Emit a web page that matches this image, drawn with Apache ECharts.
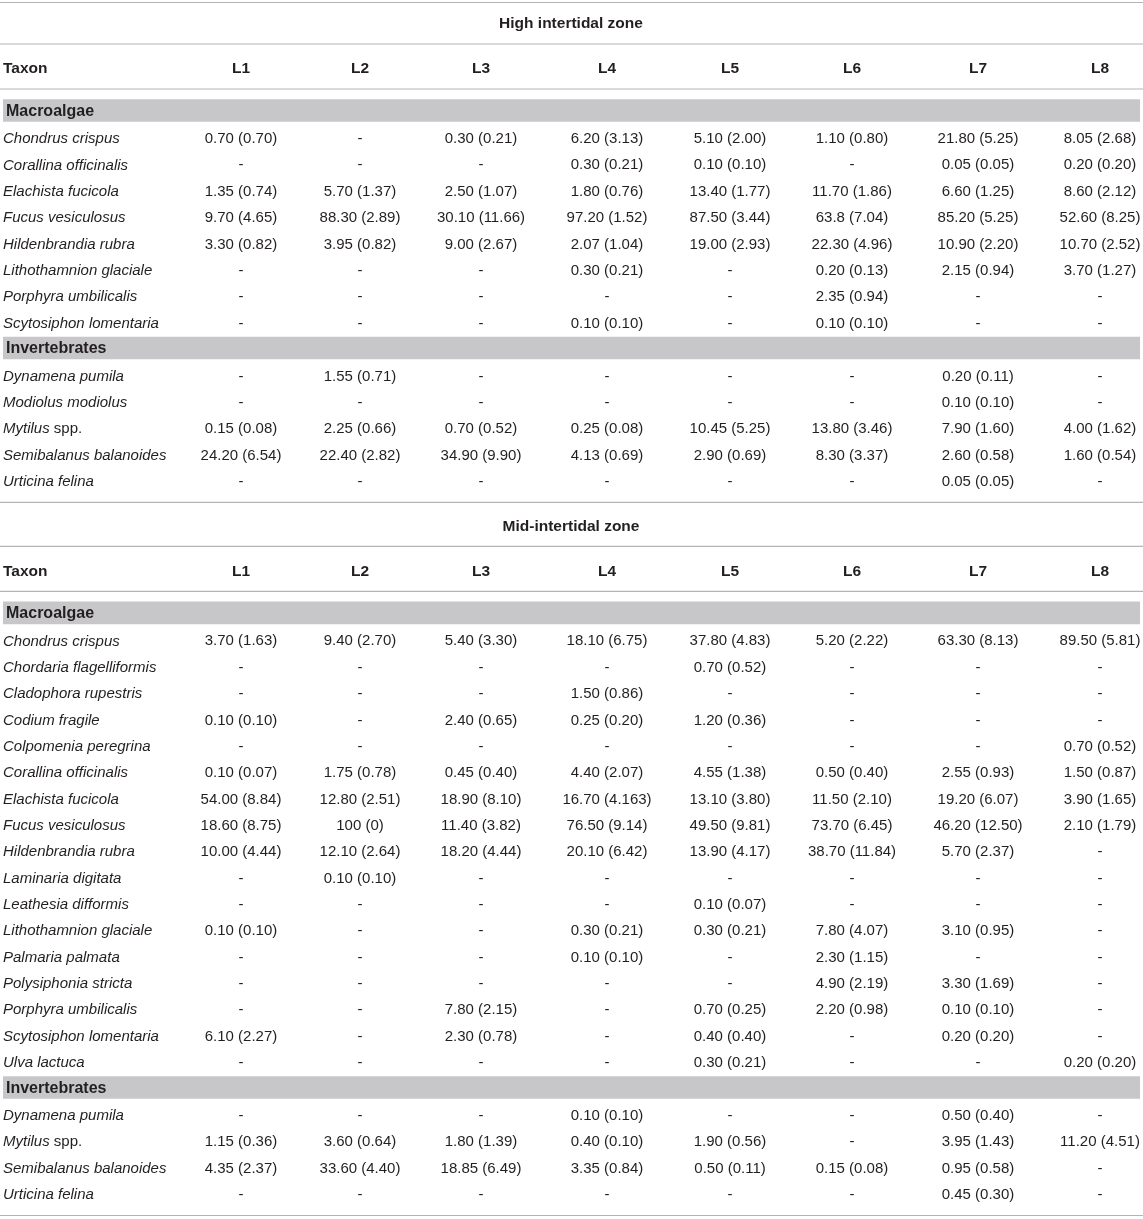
<!DOCTYPE html>
<html>
<head>
<meta charset="utf-8">
<script src="https://cdn.jsdelivr.net/npm/echarts@6/dist/echarts.min.js"></script>
<style>html,body{margin:0;padding:0;background:#fff;}#c{width:1143px;height:1219px;}</style>
</head>
<body>
<div id="c"></div>
<script>
const COLS = ['L1','L2','L3','L4','L5','L6','L7','L8'];
const ZONES = ['High intertidal zone','Mid-intertidal zone'];
const GROUPS = ['Macroalgae','Invertebrates'];
const TAXON_HEADER = 'Taxon';

const highMacroTaxa = ['Chondrus crispus','Corallina officinalis','Elachista fucicola','Fucus vesiculosus','Hildenbrandia rubra','Lithothamnion glaciale','Porphyra umbilicalis','Scytosiphon lomentaria'];
const highMacroValues = [
['0.70 (0.70)','-','0.30 (0.21)','6.20 (3.13)','5.10 (2.00)','1.10 (0.80)','21.80 (5.25)','8.05 (2.68)'],
['-','-','-','0.30 (0.21)','0.10 (0.10)','-','0.05 (0.05)','0.20 (0.20)'],
['1.35 (0.74)','5.70 (1.37)','2.50 (1.07)','1.80 (0.76)','13.40 (1.77)','11.70 (1.86)','6.60 (1.25)','8.60 (2.12)'],
['9.70 (4.65)','88.30 (2.89)','30.10 (11.66)','97.20 (1.52)','87.50 (3.44)','63.8 (7.04)','85.20 (5.25)','52.60 (8.25)'],
['3.30 (0.82)','3.95 (0.82)','9.00 (2.67)','2.07 (1.04)','19.00 (2.93)','22.30 (4.96)','10.90 (2.20)','10.70 (2.52)'],
['-','-','-','0.30 (0.21)','-','0.20 (0.13)','2.15 (0.94)','3.70 (1.27)'],
['-','-','-','-','-','2.35 (0.94)','-','-'],
['-','-','-','0.10 (0.10)','-','0.10 (0.10)','-','-']
];
const highInvTaxa = ['Dynamena pumila','Modiolus modiolus','Mytilus spp.','Semibalanus balanoides','Urticina felina'];
const highInvValues = [
['-','1.55 (0.71)','-','-','-','-','0.20 (0.11)','-'],
['-','-','-','-','-','-','0.10 (0.10)','-'],
['0.15 (0.08)','2.25 (0.66)','0.70 (0.52)','0.25 (0.08)','10.45 (5.25)','13.80 (3.46)','7.90 (1.60)','4.00 (1.62)'],
['24.20 (6.54)','22.40 (2.82)','34.90 (9.90)','4.13 (0.69)','2.90 (0.69)','8.30 (3.37)','2.60 (0.58)','1.60 (0.54)'],
['-','-','-','-','-','-','0.05 (0.05)','-']
];
const midMacroTaxa = ['Chondrus crispus','Chordaria flagelliformis','Cladophora rupestris','Codium fragile','Colpomenia peregrina','Corallina officinalis','Elachista fucicola','Fucus vesiculosus','Hildenbrandia rubra','Laminaria digitata','Leathesia difformis','Lithothamnion glaciale','Palmaria palmata','Polysiphonia stricta','Porphyra umbilicalis','Scytosiphon lomentaria','Ulva lactuca'];
const midMacroValues = [
['3.70 (1.63)','9.40 (2.70)','5.40 (3.30)','18.10 (6.75)','37.80 (4.83)','5.20 (2.22)','63.30 (8.13)','89.50 (5.81)'],
['-','-','-','-','0.70 (0.52)','-','-','-'],
['-','-','-','1.50 (0.86)','-','-','-','-'],
['0.10 (0.10)','-','2.40 (0.65)','0.25 (0.20)','1.20 (0.36)','-','-','-'],
['-','-','-','-','-','-','-','0.70 (0.52)'],
['0.10 (0.07)','1.75 (0.78)','0.45 (0.40)','4.40 (2.07)','4.55 (1.38)','0.50 (0.40)','2.55 (0.93)','1.50 (0.87)'],
['54.00 (8.84)','12.80 (2.51)','18.90 (8.10)','16.70 (4.163)','13.10 (3.80)','11.50 (2.10)','19.20 (6.07)','3.90 (1.65)'],
['18.60 (8.75)','100 (0)','11.40 (3.82)','76.50 (9.14)','49.50 (9.81)','73.70 (6.45)','46.20 (12.50)','2.10 (1.79)'],
['10.00 (4.44)','12.10 (2.64)','18.20 (4.44)','20.10 (6.42)','13.90 (4.17)','38.70 (11.84)','5.70 (2.37)','-'],
['-','0.10 (0.10)','-','-','-','-','-','-'],
['-','-','-','-','0.10 (0.07)','-','-','-'],
['0.10 (0.10)','-','-','0.30 (0.21)','0.30 (0.21)','7.80 (4.07)','3.10 (0.95)','-'],
['-','-','-','0.10 (0.10)','-','2.30 (1.15)','-','-'],
['-','-','-','-','-','4.90 (2.19)','3.30 (1.69)','-'],
['-','-','7.80 (2.15)','-','0.70 (0.25)','2.20 (0.98)','0.10 (0.10)','-'],
['6.10 (2.27)','-','2.30 (0.78)','-','0.40 (0.40)','-','0.20 (0.20)','-'],
['-','-','-','-','0.30 (0.21)','-','-','0.20 (0.20)']
];
const midInvTaxa = ['Dynamena pumila','Mytilus spp.','Semibalanus balanoides','Urticina felina'];
const midInvValues = [
['-','-','-','0.10 (0.10)','-','-','0.50 (0.40)','-'],
['1.15 (0.36)','3.60 (0.64)','1.80 (1.39)','0.40 (0.10)','1.90 (0.56)','-','3.95 (1.43)','11.20 (4.51)'],
['4.35 (2.37)','33.60 (4.40)','18.85 (6.49)','3.35 (0.84)','0.50 (0.11)','0.15 (0.08)','0.95 (0.58)','-'],
['-','-','-','-','-','-','0.45 (0.30)','-']
];

// ---- layout (pixel units on the value axes) ----
const W = 1143, H = 1219;
const COL_X = [241, 360, 481, 607, 730, 852, 978, 1100];
const TAXON_X = 3, GROUP_X = 6, TITLE_X = 571;
const PITCH = 26.35;
const FONT = '"Liberation Sans", Arial, Helvetica, sans-serif';
const FS = 15;
const FS_BOLD = 15.5;
const FS_GROUP = 16;
const TXT = '#231f20';
const TEXT_DY = 1;

const texts = [], rules = [], bands = [];

function section(title, titleY, groups) {
  texts.push({x: TITLE_X, y: titleY, text: title, bold: true, size: FS_BOLD, align: 'center'});
  rules.push(titleY + 21);
  const hy = titleY + 45;
  texts.push({x: TAXON_X, y: hy, text: TAXON_HEADER, bold: true, size: FS_BOLD, align: 'left'});
  COLS.forEach((c, i) => texts.push({x: COL_X[i], y: hy, text: c, bold: true, size: FS_BOLD, align: 'center'}));
  rules.push(titleY + 66);
  let y = titleY + 87.5;
  let last = y;
  groups.forEach((g, gi) => {
    if (gi > 0) y = last + 25.5;
    bands.push(y);
    texts.push({x: GROUP_X, y: y, text: GROUPS[gi], bold: true, size: FS_GROUP, align: 'left'});
    y += 27.5;
    g.taxa.forEach((t, ri) => {
      texts.push({x: TAXON_X, y: y, text: t, italic: true, size: FS, align: 'left'});
      g.values[ri].forEach((v, ci) => texts.push({x: COL_X[ci], y: y, text: v, size: FS, align: 'center'}));
      last = y;
      y += PITCH;
    });
  });
  return last;
}

rules.push(2.5);
const last1 = section(ZONES[0], 23, [{taxa: highMacroTaxa, values: highMacroValues}, {taxa: highInvTaxa, values: highInvValues}]);
const r1 = last1 + 21.5;
rules.push(r1);
const last2 = section(ZONES[1], r1 + 23, [{taxa: midMacroTaxa, values: midMacroValues}, {taxa: midInvTaxa, values: midInvValues}]);
rules.push(last2 + 21.5);

function textStyle(t) {
  const fs = t.size;
  const base = {fontFamily: FONT, fontSize: fs, fill: TXT, fontWeight: t.bold ? 'bold' : 'normal'};
  let s;
  if (t.italic && / spp\.$/.test(t.text)) {
    const genus = t.text.replace(/ spp\.$/, '');
    s = Object.assign({}, base, {
      text: '{i|' + genus + '}{n| spp.}',
      rich: {
        i: {fontFamily: FONT, fontSize: fs, fontStyle: 'italic', fill: TXT},
        n: {fontFamily: FONT, fontSize: fs, fontStyle: 'normal', fill: TXT}
      }
    });
  } else {
    s = Object.assign({}, base, {text: t.text, fontStyle: t.italic ? 'italic' : 'normal'});
  }
  s.align = t.align;
  s.verticalAlign = 'middle';
  return s;
}

const chart = echarts.init(document.getElementById('c'), null, {renderer: 'canvas'});
chart.setOption({
  animation: false,
  backgroundColor: '#ffffff',
  grid: {left: 0, right: 0, top: 0, bottom: 0},
  xAxis: {type: 'value', min: 0, max: W, show: false},
  yAxis: {type: 'value', min: 0, max: H, inverse: true, show: false},
  series: [
    {
      type: 'custom', silent: true, clip: false, z: 1,
      data: bands.map(y => [0, y]),
      renderItem: function (params, api) {
        const y = api.value(1);
        const p1 = api.coord([3, y - 11.3]);
        const p2 = api.coord([1140, y + 11.3]);
        return {type: 'rect', shape: {x: p1[0], y: p1[1], width: p2[0] - p1[0], height: p2[1] - p1[1]}, style: {fill: '#c7c7c9'}};
      }
    },
    {
      type: 'custom', silent: true, clip: false, z: 2,
      data: rules.map(y => [0, y]),
      renderItem: function (params, api) {
        const y = api.value(1);
        const p1 = api.coord([0, y]);
        const p2 = api.coord([W, y]);
        return {type: 'line', shape: {x1: p1[0], y1: p1[1], x2: p2[0], y2: p2[1]}, style: {stroke: '#b4b4b4', lineWidth: 1.2}};
      }
    },
    {
      type: 'custom', silent: true, clip: false, z: 3,
      data: texts.map(t => [t.x, t.y + TEXT_DY]),
      renderItem: function (params, api) {
        const t = texts[params.dataIndex];
        const p = api.coord([api.value(0), api.value(1)]);
        const st = textStyle(t);
        st.x = p[0]; st.y = p[1];
        return {type: 'text', style: st};
      }
    }
  ]
});
</script>
</body>
</html>
